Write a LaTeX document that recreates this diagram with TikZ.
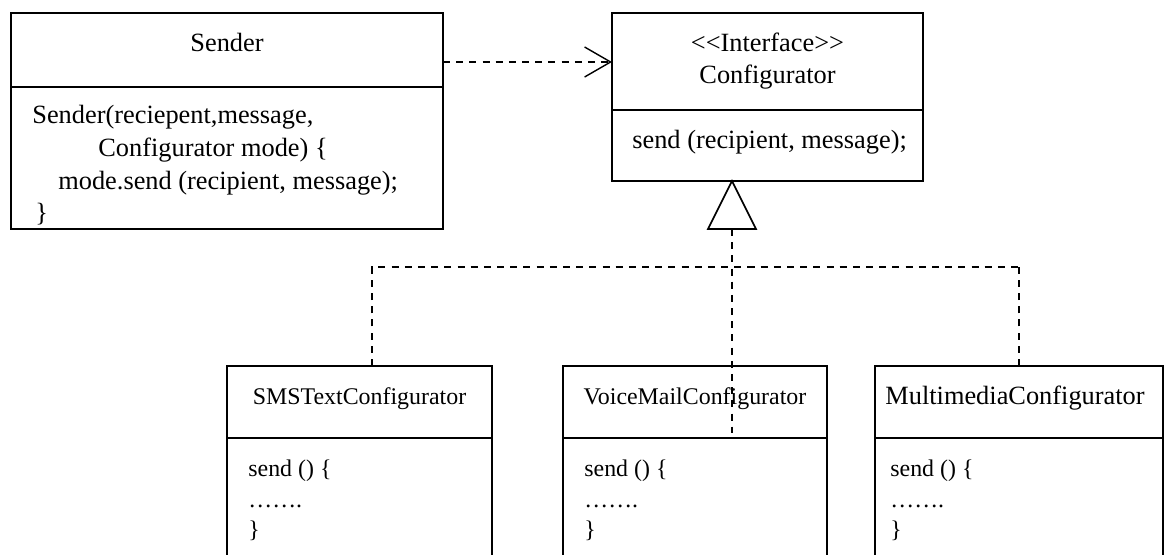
\documentclass[tikz,border=0pt]{standalone}
\usepackage{fontspec}
\setmainfont{Liberation Serif}
\usetikzlibrary{arrows.meta}
\tikzset{>=latex}

\begin{document}
\begin{tikzpicture}[
            box/.style={draw=black, line width=1.1pt},
            dep/.style={draw=black, line width=0.8pt, dash pattern=on 4pt off 3.5pt},
            big/.style={font=\fontsize{15}{18}\selectfont, inner sep=0pt},
            small/.style={font=\fontsize{13.6}{16}\selectfont, inner sep=0pt}
        ]
            \path[use as bounding box, clip] (0, 0) rectangle (23.3, -11.08);
            % class boxes
            \coordinate (sendl) at (0.22, -0.26);
            \coordinate (sendr) at (8.86, -4.58);
            \coordinate (confl) at (12.24, -0.26);
            \coordinate (confr) at (18.46, -3.62);
            \coordinate (smsl) at (4.54, -7.32);
            \coordinate (smsr) at (9.84, -11.5);
            \coordinate (voicel) at (11.26, -7.32);
            \coordinate (voicer) at (16.54, -11.5);
            \coordinate (multil) at (17.5, -7.32);
            \coordinate (multir) at (23.26, -11.5);
            \draw[box] (sendl) rectangle (sendr);
            \draw[box] (confl) rectangle (confr);
            \draw[box] (smsl) rectangle (smsr);
            \draw[box] (voicel) rectangle (voicer);
            \draw[box] (multil) rectangle (multir);
            \draw[box] (0.22, -1.74) -- (8.86, -1.74);
            \draw[box] (12.24, -2.2) -- (18.46, -2.2);
            \draw[box] (4.54, -8.76) -- (9.84, -8.76);
            \draw[box] (11.26, -8.76) -- (16.54, -8.76);
            \draw[box] (17.5, -8.76) -- (23.26, -8.76);
            % Sender
            \node[big, anchor=base] (sendname) at (4.54, -1.02) {Sender};
            \node[big, anchor=base west] (sendone) at (0.64, -2.46) {Sender(reciepent,message,};
            \node[big, anchor=base west] (sendtwo) at (1.96, -3.12) {Configurator mode) \{};
            \node[big, anchor=base west] (sendthree) at (1.16, -3.78) {mode.send (recipient, message);};
            \node[big, anchor=base west] (sendfour) at (0.7, -4.42) {\}};
            % Configurator
            \node[big, anchor=base] (confstereo) at (15.35, -1.02) {<\kern0pt<Interface>\kern0pt>};
            \node[big, anchor=base] (confname) at (15.35, -1.66) {Configurator};
            \node[big, anchor=base west] (confop) at (12.64, -2.96) {send (recipient, message);};
            % concrete configurators
            \node[small, anchor=base] (smsname) at (7.19, -8.08) {SMSTextConfigurator};
            \node[small, anchor=base west] (smsone) at (4.96, -9.52) {send () \{};
            \node[small, anchor=base west] (smstwo) at (4.96, -10.14) {…….};
            \node[small, anchor=base west] (smsthree) at (4.96, -10.74) {\}};
            \node[small, anchor=base] (voicename) at (13.9, -8.08) {VoiceMailConfigurator};
            \node[small, anchor=base west] (voiceone) at (11.68, -9.52) {send () \{};
            \node[small, anchor=base west] (voicetwo) at (11.68, -10.14) {…….};
            \node[small, anchor=base west] (voicethree) at (11.68, -10.74) {\}};
            \node[big, anchor=base] (multiname) at (20.3, -8.08) {MultimediaConfigurator};
            \node[small, anchor=base west] (multione) at (17.8, -9.52) {send () \{};
            \node[small, anchor=base west] (multitwo) at (17.8, -10.14) {…….};
            \node[small, anchor=base west] (multithree) at (17.8, -10.74) {\}};
            % dependency
            \coordinate (depfrom) at (8.86, -1.24);
            \coordinate (depto) at (12.24, -1.24);
            \draw[dep, -{Straight Barb[length=0.52cm, width=0.6cm]}] (depfrom) -- (depto);
            % realization
            \coordinate (tritop) at (14.64, -3.62);
            \coordinate (trileft) at (14.16, -4.58);
            \coordinate (triright) at (15.12, -4.58);
            \coordinate (tribase) at (14.64, -4.58);
            \coordinate (voiceend) at (14.64, -8.66);
            \coordinate (smstop) at (7.44, -7.32);
            \coordinate (smsbend) at (7.44, -5.34);
            \coordinate (multibend) at (20.38, -5.34);
            \coordinate (multitop) at (20.38, -7.32);
            \draw[line width=1pt, fill=white] (tritop) -- (trileft) -- (triright) -- cycle;
            \draw[dep] (tribase) -- (voiceend);
            \draw[dep] (smstop) -- (smsbend) -- (multibend);
            \draw[dep] (multitop) -- (multibend);
        \end{tikzpicture}
\end{document}
